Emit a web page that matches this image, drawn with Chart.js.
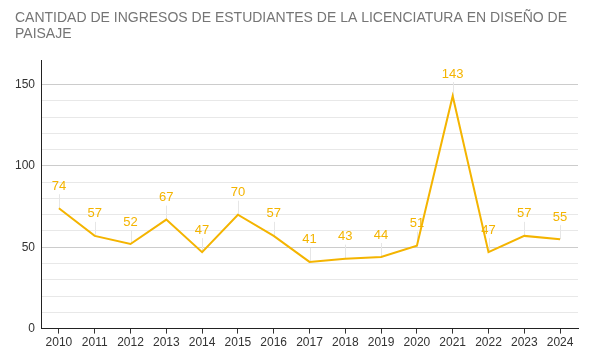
<!DOCTYPE html>
<html><head><meta charset="utf-8">
<script src="https://cdn.jsdelivr.net/npm/chart.js@4/dist/chart.umd.min.js"></script>
<style>html,body{margin:0;padding:0;background:#fff}#w{width:592px;height:362px}</style>
</head><body><div id="w"><canvas id="c"></canvas></div>
<script>
const titleLines = ['CANTIDAD DE INGRESOS DE ESTUDIANTES DE LA LICENCIATURA EN DISEÑO DE', 'PAISAJE'];
const years = ['2010','2011','2012','2013','2014','2015','2016','2017','2018','2019','2020','2021','2022','2023','2024'];
const ingresos = [74,57,52,67,47,70,57,41,43,44,51,143,47,57,55];
const yMax = 165;

const FONT = '"Liberation Sans", Arial, sans-serif';
const GOLD = '#f4b400';

const labelPlugin = {
  id: 'annot',
  beforeDatasetsDraw(chart) {
    const ctx = chart.ctx;
    const meta = chart.getDatasetMeta(0);
    ctx.save();
    ctx.strokeStyle = '#e6e6e6';
    ctx.lineWidth = 1;
    meta.data.forEach(p => {
      const x = Math.round(p.x) + 0.5;
      ctx.beginPath();
      ctx.moveTo(x, p.y - 14);
      ctx.lineTo(x, p.y);
      ctx.stroke();
    });
    ctx.restore();
  },
  afterDatasetsDraw(chart) {
    const ctx = chart.ctx;
    const meta = chart.getDatasetMeta(0);
    const data = chart.data.datasets[0].data;
    ctx.save();
    ctx.fillStyle = GOLD;
    ctx.font = '13px ' + FONT;
    ctx.textAlign = 'center';
    ctx.textBaseline = 'middle';
    meta.data.forEach((p, i) => {
      ctx.fillText(String(data[i]), p.x, p.y - 22);
    });
    ctx.restore();
  }
};

new Chart(document.getElementById('c'), {
  type: 'line',
  data: {
    labels: years,
    datasets: [{
      data: ingresos,
      borderColor: GOLD,
      backgroundColor: GOLD,
      borderWidth: 2,
      pointRadius: 0,
      tension: 0,
      clip: false
    }]
  },
  plugins: [labelPlugin],
  options: {
    responsive: true,
    maintainAspectRatio: false,
    animation: false,
    layout: { padding: { left: 15, right: 14, top: 10, bottom: 10 } },
    plugins: {
      legend: { display: false },
      tooltip: { enabled: false },
      title: {
        display: true,
        text: titleLines,
        align: 'start',
        color: '#757575',
        font: { family: FONT, size: 14, weight: 'normal', lineHeight: 1.15 },
        padding: { top: 0, bottom: 18 }
      }
    },
    scales: {
      x: {
        offset: true,
        grid: { display: true, drawOnChartArea: false, drawTicks: true, tickLength: 5, color: '#333', offset: false },
        border: { display: true, color: '#222', width: 1 },
        ticks: { color: '#333', font: { family: FONT, size: 12 }, padding: 2, maxRotation: 0, autoSkip: false }
      },
      y: {
        min: 0,
        max: yMax,
        afterFit(s) { s.width = 26; },
        grid: {
          drawTicks: false,
          color: c => (c.tick.value % 50 === 0 ? '#cccccc' : (c.tick.value % 10 === 0 ? '#e8e8e8' : 'rgba(0,0,0,0)'))
        },
        border: { display: true, color: '#222', width: 1 },
        ticks: {
          stepSize: 10,
          autoSkip: false,
          color: '#333',
          font: { family: FONT, size: 12 },
          padding: 6,
          callback: v => (v % 50 === 0 ? String(v) : '')
        }
      }
    }
  }
});
</script>
</body></html>
